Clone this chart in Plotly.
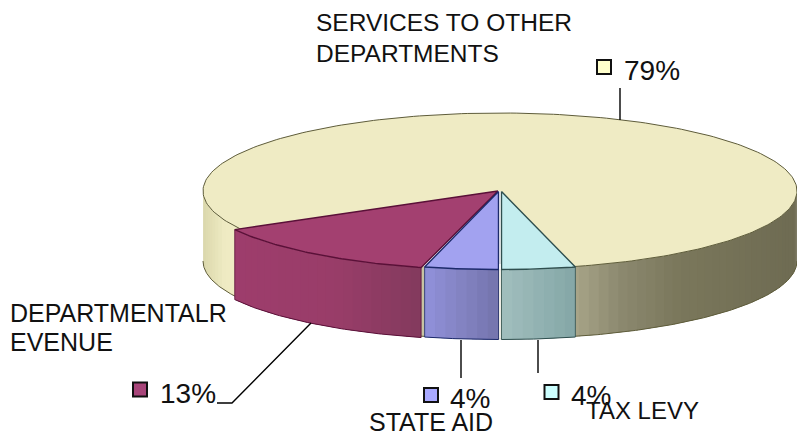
import math
import plotly.graph_objects as go

# ---- data ----
categories = ["TAX LEVY", "STATE AID", "DEPARTMENTAL REVENUE", "SERVICES TO OTHER DEPARTMENTS"]
values = [4, 4, 13, 79]
percent_labels = ["4%", "4%", "13%", "79%"]

# ---- style ----
top_colors = ["#C3EDEF", "#A2A2F0", "#A34070", "#EFEBC4"]
edge_colors = ["#2F4F4F", "#1C2A6B", "#5A1038", "#5E5C3A"]
key_colors = ["#CCFFFF", "#A9A9FF", "#A8457A", "#FFFFCC"]
side_stops = [
    [(502, "#A0BEBD"), (575, "#84A6A6")],
    [(424, "#9292DC"), (460, "#8484C4"), (500, "#7474AC")],
    [(233, "#9E3D6C"), (340, "#993D69"), (421, "#843A5E")],
    [(203, "#DAD7AC"), (225, "#EFEBC3"), (233, "#EFEBC3"),
     (575, "#A8A488"), (620, "#8C896F"), (680, "#7A775B"), (797, "#6E6B52")],
]
offsets = [(1.5, 0.5), (-1.5, 0.5), (-5, 1), (0, 0)]

CX, CY, RX, RY, DEPTH = 500, 191, 297, 78, 70
START = values[0] * 3.6


def pt(a, dx=0, dy=0, drop=0):
    r = math.radians(a)
    return CX + dx + RX * math.sin(r), CY + dy + drop + RY * math.cos(r)


def hexrgb(h):
    return [int(h[i:i + 2], 16) for i in (1, 3, 5)]


def side_color(stops, x):
    if x <= stops[0][0]:
        return stops[0][1]
    for (x0, c0), (x1, c1) in zip(stops, stops[1:]):
        if x <= x1:
            f = (x - x0) / (x1 - x0)
            a, b = hexrgb(c0), hexrgb(c1)
            return "#%02x%02x%02x" % tuple(round(p + (q - p) * f) for p, q in zip(a, b))
    return stops[-1][1]


fig = go.Figure()


def poly(xs, ys, fill=None, line=None, width=0):
    fig.add_trace(go.Scatter(
        x=xs, y=ys, mode="lines", hoverinfo="skip", showlegend=False,
        fill="toself" if fill else "none", fillcolor=fill,
        line=dict(color=line or fill, width=width)))


def arc(a0, a1, dx, dy, drop=0, n=None):
    n = n or max(2, int(abs(a1 - a0) * 1.5))
    pts = [pt(a0 + (a1 - a0) * i / n, dx, dy, drop) for i in range(n + 1)]
    return [p[0] for p in pts], [p[1] for p in pts]


def draw_side(a0, a1, i):
    dx, dy = offsets[i]
    a0c, a1c = max(min(a0, 90), -90), max(min(a1, 90), -90)
    if abs(a0c - a1c) < 1e-6:
        return
    n = max(3, int(abs(a1c - a0c) / 2))
    step = (a1c - a0c) / n
    for k in range(n):
        s0 = a0c + step * k
        s1 = a0c + step * (k + 1)
        # each strip runs under the next one so no seam shows between them
        s1x = a1c if k == n - 1 else s1 + step * 0.5
        x0, y0 = arc(s0, s1x, dx, dy, 0, 3)
        x1, y1 = arc(s1x, s0, dx, dy, DEPTH, 3)
        xm = (pt(s0)[0] + pt(s1)[0]) / 2
        col = side_color(side_stops[i], xm)
        poly(x0 + x1 + [x0[0]], y0 + y1 + [y0[0]], fill=col, line=col, width=0)
    xb, yb = arc(a0c, a1c, dx, dy, DEPTH)
    poly(xb, yb, line=edge_colors[i], width=1)
    for a in (a0c, a1c):
        if abs(a) < 89.9:
            xt, yt = pt(a, dx, dy)
            poly([xt, xt], [yt, yt + DEPTH], line=edge_colors[i], width=0.8)


# slice angular extents, going clockwise on screen from the tax levy edge
ext = []
a = START
for v in values:
    ext.append((a, a - v * 3.6))
    a -= v * 3.6

# services first: it lies behind the others
draw_side(ext[3][0], 90, 3)
draw_side(-90, ext[2][1], 3)
xs, ys = arc(ext[3][0], ext[3][1], 0, 0, 0, 240)
poly([CX] + xs + [CX], [CY] + ys + [CY], fill=top_colors[3])
poly(*arc(ext[3][0], ext[3][1], 0, 0, 0, 240), line=edge_colors[3], width=1)

for i in (2, 1, 0):
    a0, a1 = ext[i]
    dx, dy = offsets[i]
    draw_side(a0, a1, i)
    xs, ys = arc(a0, a1, dx, dy)
    ax, ay = CX + (dx if i != 2 else -2), CY + (dy if i != 2 else 0)
    poly([ax] + xs + [ax], [ay] + ys + [ay], fill=top_colors[i], line=edge_colors[i], width=1.4)

# white seam between the two small slices on the side wall
seam = pt(0, 0, 0)
poly([seam[0], seam[0]], [seam[1] - 5, seam[1] + DEPTH + 1], line="#FFFFFF", width=1.5)

# legend keys
key_x = [551.5, 431, 140, 604]
key_y = [392, 395, 389.5, 67]
for i in range(4):
    fig.add_trace(go.Scatter(
        x=[key_x[i]], y=[key_y[i]], mode="markers", hoverinfo="skip", showlegend=False,
        marker=dict(symbol="square", size=14, color=key_colors[i],
                    line=dict(color="#111111", width=2))))

# leader lines
leaders = [
    [(538, 340), (538, 373)],
    [(461, 340), (461, 378)],
    [(311, 323), (232, 403), (217, 403)],
    [(620, 88), (620, 120)],
]
for seg in leaders:
    poly([p[0] for p in seg], [p[1] for p in seg], line="#000000", width=1.4)

pct_x = [571, 450, 160, 624]
pct_y = [395, 398, 393, 70]
text_items = [(percent_labels[i], pct_x[i], pct_y[i], 28) for i in range(4)]
text_items += [
    ("SERVICES TO OTHER", 316, 22, 24.5),
    ("DEPARTMENTS", 316, 53, 24.5),
    ("DEPARTMENTALR", 10, 313, 25),
    ("EVENUE", 10, 341.5, 25),
    ("STATE AID", 369, 422, 25),
    ("TAX LEVY", 586, 410, 24),
]
annotations = [
    dict(x=x, y=y, text=t, showarrow=False, xanchor="left", yanchor="middle",
         xref="x", yref="y", xshift=-2,
         font=dict(family="Liberation Sans, Arial, sans-serif", size=s, color="#111111"))
    for t, x, y, s in text_items
]

fig.update_layout(
    width=797, height=433, margin=dict(l=0, r=0, t=0, b=0),
    paper_bgcolor="#FFFFFF", plot_bgcolor="#FFFFFF", showlegend=False,
    xaxis=dict(range=[0, 797], visible=False, fixedrange=True),
    yaxis=dict(range=[433, 0], visible=False, fixedrange=True),
    annotations=annotations,
)
fig.write_html("out.html", post_script="document.body.style.margin='0';",
               config={"displayModeBar": False})
